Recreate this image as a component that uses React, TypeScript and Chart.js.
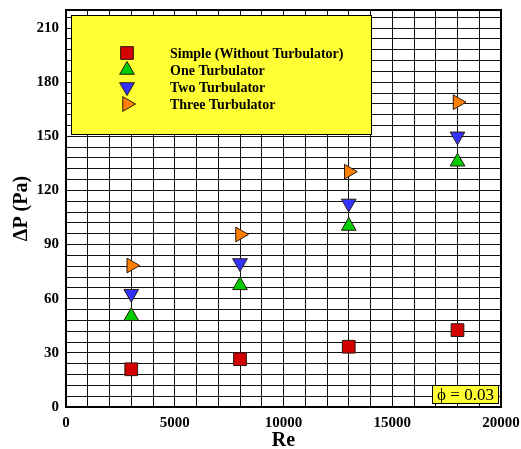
import React, { useEffect, useRef } from 'react';
import { Chart, registerables } from 'chart.js';
import { drawPoint } from 'chart.js/helpers';

Chart.register(...registerables);

// Reynolds numbers tested and measured pressure drop (Pa)
const reynolds = [3000, 8000, 13000, 18000];
const simpleDp = [20.9, 26.5, 33.4, 42.6];
const oneTurbulatorDp = [50.3, 67.4, 100.3, 135.9];
const twoTurbulatorDp = [62.8, 79.8, 112.8, 150];
const threeTurbulatorDp = [78.4, 95.6, 130.4, 168.9];

const seriesNames = [
  'Simple (Without Turbulator)',
  'One Turbulator',
  'Two Turbulator',
  'Three Turbulator',
];

const xLabelStep = 5000;
const xGridStep = 1000;
const xMax = 20000;
const yLabelStep = 30;
const yGridStep = 6;
const yMax = 220;
const yLabelMax = 210;
const volumeFraction = '0.03';

const SERIF = "'Liberation Serif', 'Times New Roman', serif";

const markerStyles = [
  { style: 'rect', rotation: 0, radius: 9, fill: '#d40000' },
  { style: 'triangle', rotation: 0, radius: 8.5, fill: '#00cc00' },
  { style: 'triangle', rotation: 180, radius: 8.5, fill: '#3333ff' },
  { style: 'triangle', rotation: 90, radius: 8.5, fill: '#ff8000' },
];
const markerEdge = '#2a1a10';

const seriesValues = [simpleDp, oneTurbulatorDp, twoTurbulatorDp, threeTurbulatorDp];

// Closed plot frame around the chart area
const framePlugin = {
  id: 'frame',
  afterDraw(chart: any) {
    const { ctx, chartArea: a } = chart;
    ctx.save();
    ctx.strokeStyle = '#000';
    ctx.lineWidth = 2;
    ctx.strokeRect(a.left, a.top, a.right - a.left, a.bottom - a.top);
    ctx.restore();
  },
};

// Yellow legend panel in the upper-left corner and the volume fraction note
const panelPlugin = {
  id: 'panels',
  afterDraw(chart: any) {
    const { ctx, chartArea: a } = chart;
    ctx.save();

    const bx = a.left + 5;
    const by = a.top + 5;
    const bw = 301;
    const bh = 120;
    ctx.fillStyle = '#ffff33';
    ctx.fillRect(bx, by, bw, bh);
    ctx.strokeStyle = '#000';
    ctx.lineWidth = 1;
    ctx.strokeRect(bx + 0.5, by + 0.5, bw - 1, bh - 1);

    ctx.font = `bold 14px ${SERIF}`;
    ctx.textBaseline = 'middle';
    ctx.textAlign = 'left';
    seriesNames.forEach((name, i) => {
      const y = by + 38 + i * 17;
      const m = markerStyles[i];
      ctx.fillStyle = m.fill;
      ctx.strokeStyle = markerEdge;
      ctx.lineWidth = 1;
      drawPoint(ctx, { pointStyle: m.style, rotation: m.rotation, radius: m.radius, borderWidth: 1 } as any, bx + 56, y);
      ctx.fillStyle = '#000';
      ctx.fillText(name, bx + 99, y + 1);
    });

    // volume fraction tag, lower-right corner
    const tw = 67;
    const th = 19;
    const tx = a.right - 2 - tw;
    const ty = a.bottom - 3 - th;
    ctx.fillStyle = '#ffff33';
    ctx.fillRect(tx, ty, tw, th);
    ctx.strokeStyle = '#000';
    ctx.strokeRect(tx + 0.5, ty + 0.5, tw - 1, th - 1);
    ctx.fillStyle = '#000';
    ctx.font = `17px ${SERIF}`;
    ctx.textAlign = 'center';
    ctx.fillText(`\u03D5 = ${volumeFraction}`, tx + tw / 2, ty + th / 2 + 1);

    ctx.restore();
  },
};

export default function App() {
  const canvasRef = useRef<HTMLCanvasElement | null>(null);

  useEffect(() => {
    document.body.style.margin = '0';
    const canvas = canvasRef.current;
    if (!canvas) return;

    const datasets = seriesNames.map((name, i) => ({
      label: name,
      data: reynolds.map((re, j) => ({ x: re, y: seriesValues[i][j] })),
      pointStyle: markerStyles[i].style,
      pointRotation: markerStyles[i].rotation,
      pointRadius: markerStyles[i].radius,
      pointHoverRadius: markerStyles[i].radius,
      backgroundColor: markerStyles[i].fill,
      borderColor: markerEdge,
      borderWidth: 1,
      showLine: false,
    }));

    const chart = new Chart(canvas, {
      type: 'scatter',
      data: { datasets },
      options: {
        animation: false,
        responsive: false,
        devicePixelRatio: 1,
        layout: { padding: { top: 10, right: 20, left: 0, bottom: 0 } },
        plugins: {
          legend: { display: false },
          tooltip: { enabled: false },
        },
        scales: {
          x: {
            type: 'linear',
            min: 0,
            max: xMax,
            afterBuildTicks: (scale: any) => {
              const t = [];
              for (let v = 0; v <= xMax; v += xGridStep) t.push({ value: v });
              scale.ticks = t;
            },
            afterFit: (scale: any) => {
              scale.height = 42;
              scale.paddingLeft = 0;
              scale.paddingRight = 0;
            },
            ticks: {
              autoSkip: false,
              maxRotation: 0,
              padding: 7,
              color: '#000',
              font: { family: SERIF, size: 15, weight: 'bold' },
              callback: (v: any) => (Number(v) % xLabelStep === 0 ? String(v) : ''),
            },
            grid: { color: '#111', lineWidth: 1, drawTicks: false },
            border: { display: true, color: '#000', width: 2 },
            title: {
              display: true,
              text: 'Re',
              color: '#000',
              font: { family: SERIF, size: 20, weight: 'bold', lineHeight: 1 },
              padding: { top: 0, bottom: -2 },
            },
          },
          y: {
            type: 'linear',
            min: 0,
            max: yMax,
            afterBuildTicks: (scale: any) => {
              const t = [];
              for (let v = 0; v < yMax; v += yGridStep) t.push({ value: v });
              t.push({ value: yMax });
              scale.ticks = t;
            },
            afterFit: (scale: any) => {
              scale.width = 66;
              scale.paddingTop = 0;
              scale.paddingBottom = 0;
            },
            ticks: {
              autoSkip: false,
              padding: 7,
              color: '#000',
              font: { family: SERIF, size: 15, weight: 'bold' },
              callback: (v: any) =>
                Number(v) % yLabelStep === 0 && Number(v) <= yLabelMax ? String(v) : '',
            },
            grid: { color: '#111', lineWidth: 1, drawTicks: false },
            border: { display: true, color: '#000', width: 2 },
            title: {
              display: true,
              text: '\u0394P (Pa)',
              color: '#000',
              font: { family: SERIF, size: 20, weight: 'bold', lineHeight: 1 },
              padding: { top: 12, bottom: 0 },
            },
          },
        },
      } as any,
      plugins: [framePlugin, panelPlugin],
    });

    return () => chart.destroy();
  }, []);

  return (
    <div style={{ width: 521, height: 449 }}>
      <canvas ref={canvasRef} width={521} height={449} style={{ display: 'block' }} />
    </div>
  );
}
